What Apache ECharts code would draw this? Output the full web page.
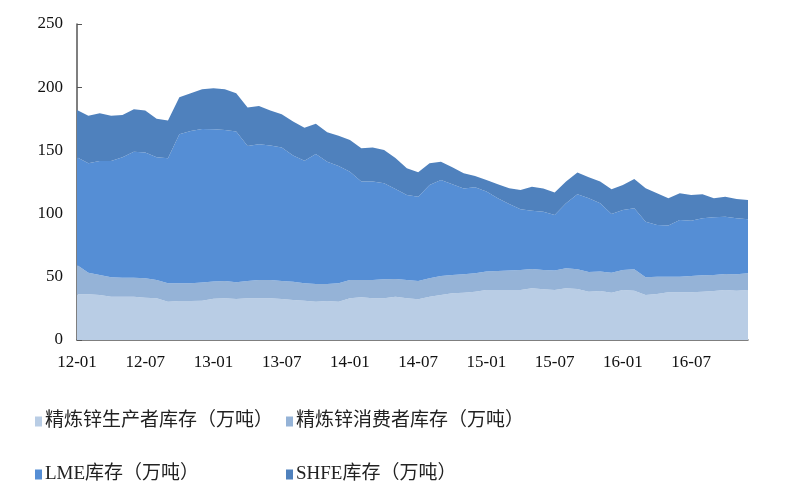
<!DOCTYPE html>
<html>
<head>
<meta charset="utf-8">
<script src="https://cdn.jsdelivr.net/npm/echarts@6/dist/echarts.min.js"></script>
<style>html,body{margin:0;padding:0;background:#fff;}#c{width:800px;height:500px;}</style>
</head>
<body>
<div id="c"></div>
<script>
// Months 12-01 .. 16-12
const categories = [];
for (let y = 12; y <= 16; y++) for (let m = 1; m <= 12; m++) categories.push(y + '-' + (m < 10 ? '0' + m : '' + m));

const seriesNames = ['精炼锌生产者库存（万吨）', '精炼锌消费者库存（万吨）', 'LME库存（万吨）', 'SHFE库存（万吨）'];

const producer = [36.1,36.1,35.6,34.3,34.3,34.3,33.5,33.0,30.3,30.9,30.9,31.1,32.7,33.0,32.4,33.0,33.0,33.0,32.4,31.7,
  31.1,30.3,30.9,30.3,33.0,33.8,33.0,33.0,34.3,33.0,32.2,34.3,35.6,37.0,37.4,38.2,39.6,39.6,39.6,39.6,
  40.9,40.1,39.6,40.9,40.4,38.2,38.8,37.4,39.6,39.0,35.6,36.4,37.7,37.7,37.7,38.2,38.8,39.6,39.0,39.6];
const consumer = [23.3,17.2,15.8,15.3,15.0,15.0,15.3,14.5,14.6,14.0,14.0,14.3,13.5,13.7,13.3,13.7,14.5,14.5,14.3,14.3,
  13.8,14.0,13.4,14.6,14.5,13.7,14.5,15.0,14.0,14.5,14.5,14.5,15.1,14.4,14.6,14.6,14.5,15.0,15.3,15.8,
  15.3,15.3,15.3,15.8,15.6,15.6,15.3,15.9,15.8,17.0,14.0,13.7,12.4,12.4,13.0,13.0,12.6,12.6,13.0,13.2];
const lme = [85.2,86.5,90.3,92.1,95.3,99.7,99.5,97.1,98.9,117.9,120.5,121.6,120.5,119.5,119.2,106.8,107.4,106.3,105.5,100.0,
  97.0,102.9,96.8,92.8,85.7,77.8,77.8,76.0,71.2,67.3,66.7,73.9,75.9,71.8,67.8,68.1,63.3,57.5,52.7,48.0,
  46.1,46.1,44.0,51.5,59.3,58.3,54.1,46.4,47.5,48.2,44.0,40.9,40.4,44.9,43.7,45.1,45.7,45.4,44.3,42.7];
const shfe = [37.4,37.7,37.7,35.8,33.4,33.6,33.2,30.4,29.8,29.2,29.8,31.4,32.5,32.2,30.3,30.4,30.3,27.7,26.4,26.8,
  26.1,23.8,23.3,23.8,25.1,26.4,26.9,26.4,24.4,21.0,19.3,17.1,14.5,13.5,12.1,8.9,9.2,11.1,12.4,15.3,
  19.0,18.3,17.7,17.1,17.2,16.7,17.1,19.6,19.8,23.2,26.4,25.1,21.6,21.1,20.4,19.0,15.0,15.8,15.3,15.3];

const yTicks = { min: 0, max: 250, interval: 50 };
const colors = ['#b9cde5', '#95b3d7', '#558ed5', '#4f81bd'];
const values = [producer, consumer, lme, shfe];

const chart = echarts.init(document.getElementById('c'), null, { renderer: 'canvas' });
const serif = '"Liberation Serif", "Times New Roman", serif';
const mixed = '"Liberation Serif", "Noto Sans CJK SC", serif';

function legendAt(i, left, top) {
  return {
    data: [seriesNames[i]], left: left, top: top, itemWidth: 7, itemHeight: 10, itemGap: 4,
    icon: 'rect', selectedMode: false,
    textStyle: { fontFamily: mixed, fontSize: 19, color: '#222', padding: [0, 0, 0, -2] }
  };
}

chart.setOption({
  animation: false,
  backgroundColor: '#fff',
  color: colors,
  grid: { left: 77, right: 52, top: 24, bottom: 160, containLabel: false },
  legend: [legendAt(0, 30, 407), legendAt(1, 281, 407), legendAt(2, 30, 460), legendAt(3, 281, 460)],
  xAxis: {
    type: 'category', data: categories, boundaryGap: false,
    axisLine: { lineStyle: { color: '#555', width: 1.5 } },
    axisTick: { inside: true, interval: 5, length: 5, lineStyle: { color: '#555' } },
    axisLabel: { interval: 5, margin: 14, fontFamily: serif, fontSize: 17, color: '#111' },
    splitLine: { show: false }
  },
  yAxis: {
    type: 'value', min: yTicks.min, max: yTicks.max, interval: yTicks.interval,
    axisLine: { show: true, lineStyle: { color: '#555', width: 1.5 } },
    axisTick: { show: true, inside: true, length: 5, lineStyle: { color: '#555' } },
    axisLabel: { margin: 14, fontFamily: serif, fontSize: 17, color: '#111' },
    splitLine: { show: false }
  },
  series: values.map((v, i) => ({
    name: seriesNames[i], type: 'line', stack: 'total', data: v,
    symbol: 'none', showSymbol: false,
    lineStyle: { width: 0 },
    areaStyle: { color: colors[i], opacity: 1 },
    itemStyle: { color: colors[i] }
  }))
});
</script>
</body>
</html>
